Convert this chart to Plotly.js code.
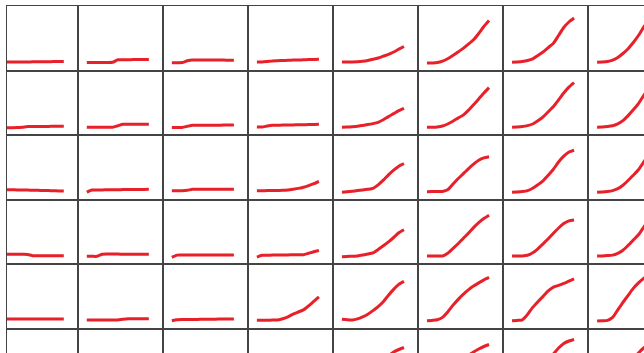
<!DOCTYPE html>
<html><head><meta charset="utf-8">
<script src="https://cdn.plot.ly/plotly-3.0.1.min.js"></script>
<style>
html,body{margin:0;padding:0;overflow:hidden;background:#fff;width:644px;height:353px}
#chart{width:680px;height:400px}
</style>
</head><body><div id="chart"></div>
<script>
// x positions (sample index) shared by every small multiple
const xIndex = [0,1,2,3,4,5,6,7,8,9,10,11,12];

// one array per grid row; each inner list is one cell (columns 1..8)
const row1 = [
  [0,0,0,0,0,0,0.2,0.2,0.3,0.3,0.4,0.5,0.5],
  [-0.5,-0.5,-0.5,-0.5,-0.5,-0.3,2.2,2.3,2.3,2.4,2.4,2.5,2.5],
  [-0.7,-0.7,-0.6,1.2,2.0,2.0,2.0,2.0,2.0,1.9,1.9,1.8,1.8],
  [0,0,0.5,1.1,1.3,1.5,1.7,1.9,2.0,2.2,2.4,2.6,2.7],
  [0,0,0.1,0.3,0.7,1.5,2.7,4,5.8,7.6,10,12.8,15.5],
  [-1,-0.9,-0.6,0.8,3.3,6.5,10,13.6,17.8,22.2,28.5,35.5,41.5],
  [-0.3,0,0.5,1.5,3.2,6.5,10,14.4,18.8,26.5,34.5,40,44],
  [-0.3,0,0.5,1.8,4.5,8.5,13.3,19.5,26.5,34.8,42,47,50]
];
const row2 = [
  [-1.1,-1.1,-1.1,-1,-0.6,0.1,0.1,0.2,0.2,0.2,0.3,0.3,0.3],
  [-0.7,-0.7,-0.7,-0.7,-0.7,-0.7,0.8,2.3,2.3,2.3,2.4,2.4,2.4],
  [-0.9,-0.9,-0.8,0.3,1.3,1.3,1.4,1.4,1.4,1.4,1.5,1.5,1.5],
  [-0.4,-0.4,0.6,1.3,1.4,1.5,1.6,1.7,1.8,1.9,2.0,2.2,2.3],
  [-0.7,-0.5,-0.1,0.4,1.2,2,3,4.3,6.8,10,13,16,18.3],
  [-0.7,-0.6,-0.3,0.6,2.6,5.4,8.5,11.5,16.2,21.8,27.6,33.5,39],
  [-0.7,-0.5,0,1,2.6,5.8,9.7,14.8,20,26.7,33.6,39.5,44],
  [-0.7,-0.5,0,0.8,2.8,6,11,16.8,23,31,38,43,47]
];
const row3 = [
  [1.6,1.5,1.4,1.3,1.2,1.1,1.0,0.9,0.7,0.6,0.5,0.3,0.2],
  [-0.9,1.2,1.3,1.3,1.4,1.5,1.5,1.6,1.6,1.7,1.8,1.8,1.9],
  [0.5,0.5,0.5,0.9,1.9,1.9,1.9,1.9,1.9,1.9,1.9,1.9,1.9],
  [0.5,0.5,0.6,0.7,0.8,0.9,1.3,2,2.8,4,5.6,7.5,9.7],
  [-1.1,-0.6,0,0.6,1.2,1.9,2.8,6.3,11,16.3,21,25,27.5],
  [-0.5,-0.4,-0.3,-0.2,1.5,7,12.4,17.4,22.4,27,31,33.4,34.5],
  [-1.1,-0.9,-0.4,0.6,3,6.5,10.4,16,22,29.2,35,39.2,41],
  [-1.1,-0.8,-0.3,0.6,2.5,6,10.7,16,21.5,29,36,41,44]
];
const row4 = [
  [1.5,1.5,1.5,1.5,1.5,1.4,0.1,0,0,0,0,0.1,0.1],
  [-0.5,-0.5,-0.5,1.6,1.8,1.7,1.7,1.6,1.6,1.6,1.5,1.5,1.5],
  [-1.6,0.7,0.8,0.8,0.8,0.8,0.8,0.8,0.8,0.8,0.8,0.8,0.8],
  [-1.3,0.5,0.6,0.7,0.8,0.8,0.9,1,1,1.1,2.6,4.1,5.3],
  [-0.9,-0.7,-0.4,-0.1,0.7,1.8,3,6.3,10,14,18.3,23,26],
  [-0.2,-0.2,-0.2,-0.2,2.5,7.2,12,17.3,22.6,28.2,33.2,37.2,40.5],
  [-0.2,-0.2,-0.1,0.5,3,7,12,17,22.5,27.8,32.3,35,35.8],
  [-0.2,-0.1,0.2,0.7,2.5,5.5,10.4,15.7,21,28.5,35,40,43]
];
const row5 = [
  [1.3,1.3,1.3,1.3,1.3,1.3,1.3,1.3,1.3,1.3,1.3,1.3,1.3],
  [0.4,0.4,0.4,0.4,0.4,0.4,0.4,1.2,1.7,1.7,1.7,1.7,1.7],
  [-0.4,0.6,0.8,0.9,1.0,1.0,1.1,1.2,1.2,1.3,1.3,1.4,1.4],
  [0.1,0.1,0.2,0.3,0.5,1.6,3.5,6.3,8.4,10.5,14.5,19,23.5],
  [1.1,0.6,0.4,1.5,3.5,6.2,9.8,13.8,18.7,25.2,31,36,39],
  [-0.3,0,0.6,3,8.5,15,20.8,26,30.5,34.3,37.5,40.5,43],
  [-0.3,0,0.6,6,13,18.7,24,29.5,33.2,35,37,39.3,41.5],
  [-0.6,-0.3,0,3,10.5,18,25,32,37.5,42,46,49,51]
];
const row6 = [
  [0.5,0.5,0.5,0.5,0.5,0.5,0.5,0.5,0.5,0.5,0.5,0.5,0.5],
  [0,0,0,0,0,0,0.5,1.5,1.5,1.5,1.5,1.5,1.5],
  [0,0.5,0.8,0.9,1,1,1,1,1,1,1,1,1],
  [0,0,0.2,0.5,1,2,3.5,5.5,8,11,14.5,18,22],
  [0,0,0.5,2,5,9,13,18,24,29,33,35.5,37.5],
  [0,0,0.5,3,8,14,20,25,29.5,33,36,38.5,40.5],
  [0,0,0.5,4,10,16,21,26,31,37,41.5,44,45.5],
  [0,0,0.5,3,9,16,22,27,32,37,41,44,46]
];
const rows = [row1,row2,row3,row4,row5,row6];

const W = 680, H = 400;
const colLeft = [-7.05,78,163.05,248.1,333.15,418.2,503.25,588.3];
const colWidth = 85.05;
const rowTop0 = 6, rowH = 64.6;
const frameLeft = 7;

const axisStyle = {showticklabels:false, ticks:'', showgrid:false, zeroline:false,
  showline:true, mirror:true, linecolor:'#444', linewidth:1, fixedrange:true};

const traces = [];
const layout = {width:W, height:H, margin:{l:0,r:0,t:0,b:0},
  paper_bgcolor:'#fff', plot_bgcolor:'#fff', showlegend:false};

rows.forEach((row, r) => row.forEach((vals, c) => {
  const n = r*8 + c + 1;
  const sfx = n === 1 ? '' : String(n);
  traces.push({x:xIndex, y:vals, xaxis:'x'+sfx, yaxis:'y'+sfx, type:'scatter', mode:'lines',
    line:{color:'#e8202a', width:3, shape:'spline', smoothing:0.6}, hoverinfo:'skip'});
  const cellL = colLeft[c], cellR = colLeft[c] + colWidth;
  const visL = Math.max(cellL, frameLeft);
  const pxPerStep = 5.17, leftPad = 8.8;
  const xr = [(visL - cellL - leftPad)/pxPerStep, (colWidth - leftPad)/pxPerStep];
  const top = rowTop0 + r*rowH, bot = top + rowH;
  layout['xaxis'+sfx] = Object.assign({domain:[visL/W, Math.min(1, cellR/W)], anchor:'y'+sfx, range:xr}, axisStyle);
  layout['yaxis'+sfx] = Object.assign({domain:[Math.max(0, 1-bot/H), 1-top/H], anchor:'x'+sfx, range:[-8.6, 56]}, axisStyle);
}));

Plotly.newPlot('chart', traces, layout, {displayModeBar:false, staticPlot:true});
</script>
</body></html>
